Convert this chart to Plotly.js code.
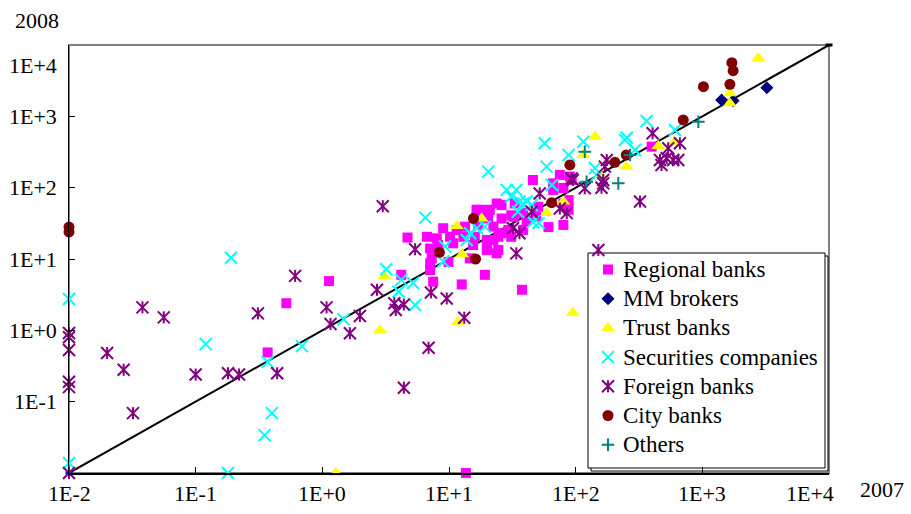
<!DOCTYPE html>
<html><head><meta charset="utf-8">
<script src="https://cdn.plot.ly/plotly-3.0.1.min.js"></script>
<style>html,body{margin:0;padding:0;background:#fff}#chart{width:911px;height:514px}</style>
</head><body><div id="chart"></div>
<script>
// ---- data (x = 2007 value, y = 2008 value) ----
const regionalX = [1.13,0.52,0.37,13.6,37.7,12.6,19.2,4.7,4.2,7.5,7.1,7.3,7.1,9.0,7.1,9.9,6.7,8.0,10.2,13,16,19.9,24.5,31,8.2,10.8,15.5,19.9,24.5,14.6,11.5,13.4,17,22.4,29.4,38.5,20.4,26,31,41,49,17.6,21,26,33,50.6,88,88,80,61,46,75,93,66.5,80,90,66.5,32.4,38.5,25.3,29.4,22.4,19.9,23.8,398,16.5,23.8,16.5,80];
const regionalY = [4.9,2.4,0.49,0.01,3.7,4.4,6.0,20,6.0,4.8,7.0,10.2,14,27,8.7,9.1,20.5,19.5,20.5,20.5,20.5,18.5,20.5,20.5,15.7,16.6,15.7,14.1,13.4,10.2,25.5,28.4,30,28.4,25.5,25.5,37,37,41,35,39,49,49,57,60,54,67,49,30,28,128,151,128,93,60,143,115,39,44,23,23,18.5,13.4,12,376,49,60,39,99];
const mmX = [1420,1750,3230];
const mmY = [1690,1660,2520];
const trustX = [1.28,2.85,11.8,95,3.1,11.5,12.7,18.1,59,80,142,115,156,252,449,608,2770,1650,1650];
const trustY = [0.01,1.0,1.32,1.77,5.8,29,11.7,37,44,64,519,287,151,197,384,441,6500,2100,1520];
const securitiesX = [0.01,0.01,0.19,0.12,0.37,0.69,0.40,0.35,0.18,1.47,5.4,4.0,6.5,3.2,4.2,5.2,9.3,9.0,13.8,14.7,16.6,19.2,57,20.4,59,28.5,34,31,36,41,46,35,88,115,245,146,363,253,608,294,65,51,38.5,45,142];
const securitiesY = [2.75,0.0138,10.4,0.64,0.36,0.60,0.069,0.034,0.01,1.43,2.27,3.5,38,7.2,5.1,4.6,15,9.2,18.5,23,27,28.4,419,168,197,93,93,75,64,64,33,46,287,441,468,151,861,502,644,338,109,32,60,57,188];
const foreignX = [0.01,0.01,0.01,0.01,0.01,0.01,0.038,0.056,0.020,0.027,0.032,0.10,0.18,0.22,0.44,0.31,0.61,1.08,1.16,1.98,1.65,3.7,3.8,4.4,2.7,7.2,9.6,13.2,6.9,4.4,3.0,5.4,34,52,45,32,36,95,118,75,85,165,176,151,405,665,538,463,523,589,646,476,322,165,93,160,170];
const foreignY = [0.92,0.8,0.53,0.19,0.16,0.01,2.1,1.52,0.48,0.28,0.069,0.24,0.25,0.24,0.25,1.73,5.8,2.1,1.23,1.59,0.91,2.4,1.93,2.3,3.7,3.4,2.8,1.5,0.57,0.157,55,13.7,12,83,46,27,23,128,98,51,44,115,244,13.4,578,419,357,244,258,244,244,208,64,128,135,100,197];
const cityX = [0.01,0.01,15.6,8.4,16.2,90,64.6,204,251,707,1020,1650,1710,1750];
const cityY = [28,24,37,12.4,10,208,61.6,227,287,890,2600,2810,5650,4370];
const othersX = [118,122,217,930,269];
const othersY = [319,121,115,840,287];
const diagX = [0.01,10000];
const diagY = [0.01,10000];

const seriesNames = ['Regional banks','MM brokers','Trust banks','Securities companies','Foreign banks','City banks','Others'];
const tickVals = [0.01,0.1,1,10,100,1000,10000];
const tickText = ['1E-2','1E-1','1E+0','1E+1','1E+2','1E+3','1E+4'];
const xAxisName = '2007';
const yAxisName = '2008';

const FONT = 'Liberation Serif';
const L = 69, R = 829, T = 45, B = 473, W = 911, H = 514;
const px2paperX = p => (p - L) / (R - L);
const px2paperY = p => (B - p) / (B - T);

// marker styles per series
const styles = [
  {symbol:'square', size:10, color:'#FF00FF'},
  {symbol:'diamond', size:10, color:'#000080'},
  {symbol:'triangle-up', size:12, color:'#FFFF00'},
  {symbol:'x-thin-open', size:12, color:'#00FFFF', line:{width:2, color:'#00FFFF'}},
  {symbol:'x-thin-open', size:12, color:'#800080', line:{width:2, color:'#800080'}},
  {symbol:'circle', size:11, color:'#800000'},
  {symbol:'cross-thin-open', size:9, color:'#008080', line:{width:2, color:'#008080'}}
];
const starBar = {symbol:'line-ns-open', size:8.6, color:'#800080', line:{width:2, color:'#800080'}};

const seriesX = [regionalX, mmX, trustX, securitiesX, foreignX, cityX, othersX];
const seriesY = [regionalY, mmY, trustY, securitiesY, foreignY, cityY, othersY];

const traces = [
  {type:'scatter', mode:'lines+markers', x:diagX, y:diagY, showlegend:false, cliponaxis:false, hoverinfo:'skip',
   line:{color:'#000', width:2},
   marker:{symbol:'line-ew-open', size:5, color:['#0000FF','#000000'], line:{width:3}}}
];
seriesNames.forEach((nm, i) => {
  traces.push({type:'scatter', mode:'markers', name:nm, x:seriesX[i], y:seriesY[i], cliponaxis:false,
    hoverinfo:'skip', showlegend:false, marker:styles[i]});
  if (i === 4) traces.push({type:'scatter', mode:'markers', name:nm + ' bar', x:seriesX[i].slice(), y:seriesY[i].slice(),
    cliponaxis:false, hoverinfo:'skip', showlegend:false, marker:starBar});
});

// custom legend (box + keys + labels)
const legBox = {l:588, t:253, r:825, b:468};
const legRowY = [269.5, 298.7, 327.9, 357.1, 386.3, 415.5, 444.7];
const legKeyX = 608, legTextX = 621;
seriesNames.forEach((nm, i) => {
  traces.push({type:'scatter', mode:'markers', xaxis:'x2', yaxis:'y2', x:[px2paperX(legKeyX)], y:[px2paperY(legRowY[i])],
    cliponaxis:false, hoverinfo:'skip', showlegend:false, marker:styles[i]});
  if (i === 4) traces.push({type:'scatter', mode:'markers', xaxis:'x2', yaxis:'y2', x:[px2paperX(legKeyX)], y:[px2paperY(legRowY[i])],
    cliponaxis:false, hoverinfo:'skip', showlegend:false, marker:starBar});
});

const annotations = [];
tickVals.forEach((v, i) => {
  annotations.push({xref:'x', yref:'paper', x:Math.log10(v), y:0, yanchor:'middle', xanchor:'center',
    yshift:-20, xshift: i === tickVals.length - 1 ? -19 : 0, showarrow:false, text:tickText[i],
    font:{family:FONT, size:22, color:'#000'}});
  if (i > 0) annotations.push({xref:'paper', yref:'y', x:0, y:Math.log10(v), xanchor:'right', yanchor:'middle',
    xshift:-10, yshift: i === tickVals.length - 1 ? -20 : 0, showarrow:false, text:tickText[i],
    font:{family:FONT, size:22, color:'#000'}});
});
annotations.push({xref:'paper', yref:'paper', x:px2paperX(882), y:px2paperY(490), xanchor:'center', yanchor:'middle',
  showarrow:false, text:xAxisName, font:{family:FONT, size:22, color:'#000'}});
annotations.push({xref:'paper', yref:'paper', x:px2paperX(37), y:px2paperY(20), xanchor:'center', yanchor:'middle',
  showarrow:false, text:yAxisName, font:{family:FONT, size:22, color:'#000'}});
seriesNames.forEach((nm, i) => {
  annotations.push({xref:'paper', yref:'paper', x:px2paperX(legTextX), y:px2paperY(legRowY[i]), xanchor:'left', yanchor:'middle',
    showarrow:false, text:nm, font:{family:FONT, size:23, color:'#000'}});
});

const layout = {
  width:W, height:H,
  margin:{l:L, r:W-R, t:T, b:H-B, pad:0},
  paper_bgcolor:'#fff', plot_bgcolor:'rgba(0,0,0,0)',
  font:{family:FONT, size:22, color:'#000'},
  showlegend:false,
  xaxis:{type:'log', range:[-2,4], showgrid:false, zeroline:false, showline:true, linecolor:'#000', linewidth:1.5,
    ticks:'inside', ticklen:6, tickwidth:1, tickcolor:'#000', tickvals:tickVals, showticklabels:false, fixedrange:true},
  yaxis:{type:'log', range:[-2,4], showgrid:false, zeroline:false, showline:true, linecolor:'#000', linewidth:1.5,
    ticks:'inside', ticklen:6, tickwidth:1, tickcolor:'#000', tickvals:tickVals, showticklabels:false, fixedrange:true},
  xaxis2:{overlaying:'x', anchor:'y2', range:[0,1], visible:false, fixedrange:true},
  yaxis2:{overlaying:'y', anchor:'x2', range:[0,1], visible:false, fixedrange:true},
  shapes:[
    {type:'rect', xref:'paper', yref:'paper', x0:0, x1:1, y0:0, y1:1, line:{color:'#808080', width:2}, layer:'below'},
    {type:'rect', xref:'paper', yref:'paper', x0:px2paperX(legBox.l+3), x1:px2paperX(legBox.r+3), y0:px2paperY(legBox.b+3), y1:px2paperY(legBox.t+3),
     line:{color:'#000', width:1}, fillcolor:'#fff', layer:'below'},
    {type:'rect', xref:'paper', yref:'paper', x0:px2paperX(legBox.l), x1:px2paperX(legBox.r), y0:px2paperY(legBox.b), y1:px2paperY(legBox.t),
     line:{color:'#000', width:1}, fillcolor:'#fff', layer:'below'}
  ],
  annotations:annotations
};

Plotly.newPlot('chart', traces, layout, {staticPlot:true, displayModeBar:false});
</script></body></html>
